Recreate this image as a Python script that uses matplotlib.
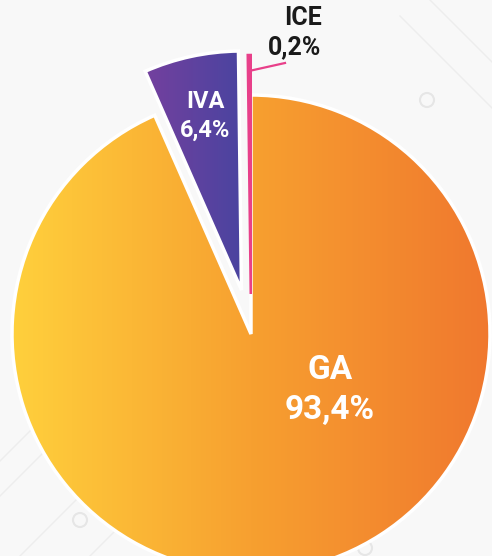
import numpy as np
import matplotlib
matplotlib.use("Agg")
import matplotlib.pyplot as plt
from matplotlib.colors import LinearSegmentedColormap

# ---- data ----
categories = ["GA", "IVA", "ICE"]
values = [93.4, 6.4, 0.2]
pct_labels = ["93,4%", "6,4%", "0,2%"]

# ---- style ----
W, H = 492, 556
bg = "#f8f8f8"
grad_colors = {
    "GA": ["#ffd03c", "#f7a030", "#f0782e"],
    "IVA": ["#74409e", "#4a44a0"],
    "ICE": ["#e8408a", "#e8408a"],
}
center = (251, H - 334)
radius = 239
explode = [0, 45, 40]   # offsets in pixels (data units)

fig = plt.figure(figsize=(W / 100, H / 100), dpi=100, facecolor=bg)
ax = fig.add_axes([0, 0, 1, 1])
ax.set_facecolor(bg)

# faint decorative background
deco = "#ededed"
for (x0, y0, x1, y1) in [(0, 95, 120, 215), (0, 60, 150, 210), (20, 0, 200, 180),
                         (90, 0, 230, 140), (400, 540, 492, 448), (430, 556, 492, 494)]:
    ax.plot([x0, x1], [y0, y1], color=deco, lw=1, zorder=0)
for (cx, cy) in [(427, H - 100), (80, H - 520), (365, H - 548)]:
    ax.add_patch(plt.Circle((cx, cy), 7, fill=False, ec="#e6e6e6", lw=1.5, zorder=0))

wedges, _ = ax.pie(values, center=center, radius=radius, startangle=90,
                   counterclock=False, explode=explode,
                   wedgeprops=dict(linewidth=2.5, edgecolor="white"))

for w, cat in zip(wedges, categories):
    cmap = LinearSegmentedColormap.from_list(cat, grad_colors[cat])
    x0, y0, x1, y1 = w.get_path().get_extents(w.get_patch_transform()).extents
    grad = np.linspace(0, 1, 256).reshape(1, -1)
    im = ax.imshow(grad, cmap=cmap, extent=(x0, x1, y0, y1), aspect="auto",
                   zorder=1, interpolation="bicubic")
    im.set_clip_path(w)
    w.set_facecolor("none")
    w.set_zorder(2)
    if cat == "ICE":
        w.set_edgecolor("#e8408a")
        w.set_linewidth(1.8)

# ICE leader line
ax.plot([249, 285], [H - 71, H - 63], color="#e8408a", lw=1.6, zorder=3)

fam = ["Roboto", "DejaVu Sans"]
ax.text(330, H - 370, "GA", color="white", fontsize=24, fontweight="bold",
        family=fam, ha="center", va="center", zorder=4)
ax.text(330, H - 410, pct_labels[0], color="white", fontsize=24, fontweight="bold",
        family=fam, ha="center", va="center", zorder=4)
ax.text(205, H - 101, "IVA", color="white", fontsize=17, fontweight="bold",
        family=fam, ha="center", va="center", zorder=4)
ax.text(205, H - 130, pct_labels[1], color="white", fontsize=17, fontweight="bold",
        family=fam, ha="center", va="center", zorder=4)
ax.text(303, H - 18, "ICE", color="#1a1a1a", fontsize=18, fontweight="bold",
        family=fam, ha="center", va="center", zorder=4)
ax.text(295, H - 47, pct_labels[2], color="#1a1a1a", fontsize=18, fontweight="bold",
        family=fam, ha="center", va="center", zorder=4)

ax.set_xlim(0, W)
ax.set_ylim(0, H)
ax.set_aspect("auto")
ax.axis("off")
fig.savefig("out.png", dpi=100, facecolor=bg)
